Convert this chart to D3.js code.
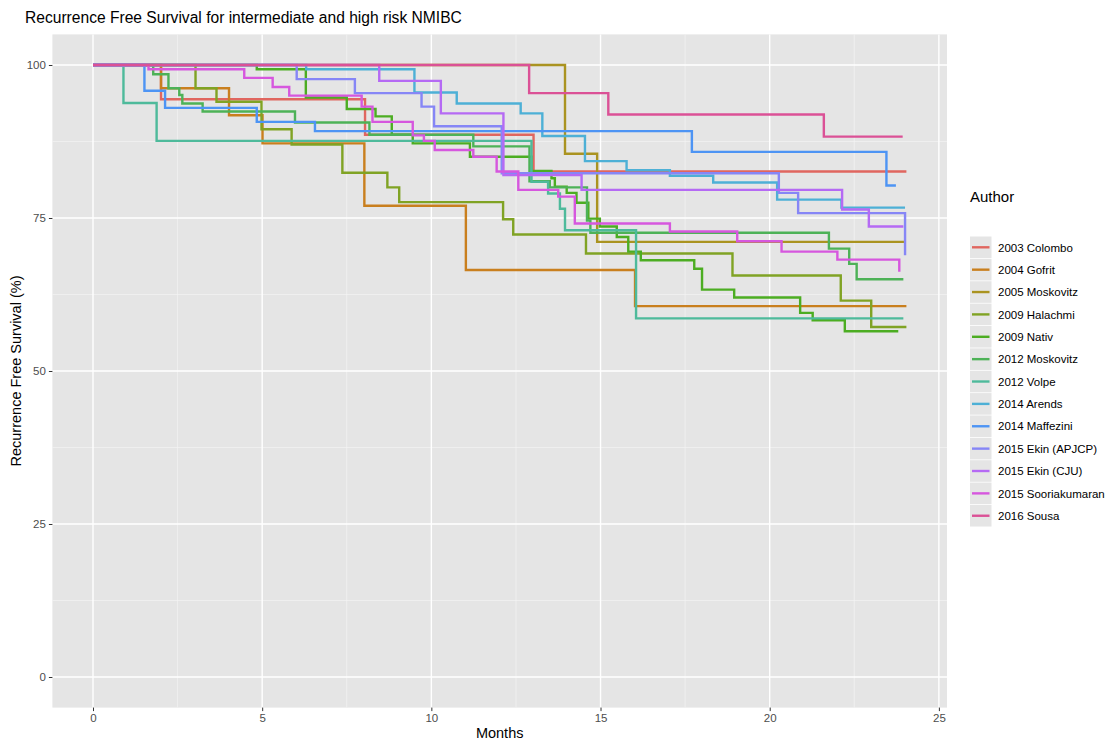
<!DOCTYPE html>
<html>
<head>
<meta charset="utf-8">
<script src="https://cdn.jsdelivr.net/npm/d3@7"></script>
<style>
body{margin:0;background:#fff;}
text{font-family:"Liberation Sans",Arial,sans-serif;}
</style>
</head>
<body>
<div id="content"></div>
<script>
// KM step curves: [month, survival %]
var authors=['2003 Colombo','2004 Gofrit','2005 Moskovitz','2009 Halachmi','2009 Nativ','2012 Moskovitz','2012 Volpe','2014 Arends','2014 Maffezini','2015 Ekin (APJCP)','2015 Ekin (CJU)','2015 Sooriakumaran','2016 Sousa'];
var colors=['#E0665F','#C97F1E','#AA9320','#80A324','#4CAD22','#4DB257','#4EBA9B','#4DB0D6','#4D94F4','#8686F6','#B56AF4','#D657DE','#DB5196'];

var colombo=[[0,100],[2.01,94.4],[8.04,88.6],[13.02,82.6],[24.04,82.6]];
var gofrit=[[0,100],[2.01,96.2],[4.02,91.8],[5.01,87.2],[8.02,77.0],[11.02,66.5],[16.02,60.6],[24.04,60.6]];
var moskovitz05=[[0,100],[13.95,85.5],[14.9,71.1],[24.0,71.1]];
var halachmi=[[0,100],[3.03,96.2],[3.65,94.0],[4.98,89.5],[5.87,87.0],[7.37,82.4],[8.7,80.0],[9.05,77.6],[12.12,74.8],[12.42,72.3],[14.57,69.2],[18.9,65.6],[22.1,61.5],[23.0,57.2],[24.04,57.2]];
var nativ=[[0,100],[4.84,99.3],[6.29,94.7],[7.5,92.8],[8.35,91.6],[8.83,88.6],[9.45,87.2],[11.14,85.0],[12.96,82.7],[13.55,81.5],[13.65,80.1],[14.0,79.1],[14.29,77.5],[14.64,74.9],[14.98,73.6],[15.48,71.9],[15.82,69.5],[16.19,68.1],[17.77,66.7],[18.0,63.3],[18.95,62.0],[20.9,59.5],[21.27,58.3],[22.22,56.5],[23.8,56.5]];
var moskovitz12=[[0,100],[1.78,98.5],[2.23,96.2],[2.55,95.1],[2.64,93.7],[3.24,92.4],[5.97,90.6],[8.17,88.6],[11.24,86.7],[12.9,81.0],[13.5,80.0],[14.6,74.6],[14.7,72.6],[21.75,70.0],[22.35,67.5],[22.57,65.0],[23.95,65.0]];
var volpe=[[0,100],[0.9,93.8],[1.88,87.6],[12.96,80.9],[13.45,79.0],[13.8,76.5],[13.95,73.0],[16.05,58.6],[23.95,58.6]];
var arends=[[0,100],[6.3,99.3],[9.5,95.5],[10.75,93.7],[12.64,92.1],[13.28,88.4],[14.54,84.3],[15.77,82.8],[17.05,81.9],[18.33,80.8],[20.22,78.0],[22.12,76.7],[24.0,76.7]];
var maffezini=[[0,100],[1.52,95.8],[2.13,93.0],[4.84,90.7],[6.56,89.2],[17.7,85.8],[23.45,80.3],[23.73,80.3]];
var ekinAPJCP=[[0,100],[6.02,97.7],[7.74,95.4],[9.71,93.2],[10.08,90.0],[12.08,82.3],[20.27,79.1],[20.84,75.8],[24.0,68.9]];
var ekinCJU=[[0,100],[8.46,97.4],[10.28,92.1],[12.13,82.0],[14.44,79.6],[22.14,76.4],[22.93,73.6],[23.95,73.6]];
var sooriakumaran=[[0,100],[1.64,99.3],[4.47,97.9],[5.31,96.4],[5.8,95.0],[7.94,93.2],[8.26,90.7],[9.45,88.5],[9.78,87.6],[10.1,86.1],[11.24,85.0],[11.93,82.6],[12.57,79.6],[13.75,78.5],[14.24,74.1],[17.05,72.8],[19.04,71.2],[20.35,69.5],[22.0,68.2],[23.83,66.2]];
var sousa=[[0,100],[12.89,95.4],[15.23,91.9],[21.6,88.3],[23.93,88.3]];

var curves=[colombo,gofrit,moskovitz05,halachmi,nativ,moskovitz12,volpe,arends,maffezini,ekinAPJCP,ekinCJU,sooriakumaran,sousa];

var xTicks=[0,5,10,15,20,25];
var yTicks=[0,25,50,75,100];

var svg_width=1115, svg_height=741;
var panel={left:52.4, right:947, top:34.4, bottom:707.6};

var svg=d3.select('#content').append('svg').attr('width',svg_width).attr('height',svg_height);

var xScale=d3.scaleLinear().domain([-1.2,25.24]).range([panel.left,panel.right]);
var yScale=d3.scaleLinear().domain([-5,105]).range([panel.bottom,panel.top]);

//panel background
svg.append('rect')
	.attr('x',panel.left).attr('y',panel.top)
	.attr('width',panel.right-panel.left).attr('height',panel.bottom-panel.top)
	.style('fill','#E5E5E5');

//minor grid
var xMinor=[2.5,7.5,12.5,17.5,22.5], yMinor=[12.5,37.5,62.5,87.5];
svg.selectAll('.xminor').data(xMinor).enter().append('line')
	.attr('x1',function(d){return xScale(d);}).attr('x2',function(d){return xScale(d);})
	.attr('y1',panel.top).attr('y2',panel.bottom)
	.style('stroke','#F4F4F4').style('stroke-width',0.7);
svg.selectAll('.yminor').data(yMinor).enter().append('line')
	.attr('y1',function(d){return yScale(d);}).attr('y2',function(d){return yScale(d);})
	.attr('x1',panel.left).attr('x2',panel.right)
	.style('stroke','#F4F4F4').style('stroke-width',0.7);

//major grid
svg.selectAll('.xmajor').data(xTicks).enter().append('line')
	.attr('x1',function(d){return xScale(d);}).attr('x2',function(d){return xScale(d);})
	.attr('y1',panel.top).attr('y2',panel.bottom)
	.style('stroke','#fff').style('stroke-width',1.4);
svg.selectAll('.ymajor').data(yTicks).enter().append('line')
	.attr('y1',function(d){return yScale(d);}).attr('y2',function(d){return yScale(d);})
	.attr('x1',panel.left).attr('x2',panel.right)
	.style('stroke','#fff').style('stroke-width',1.4);

//axes
var xAxis=svg.append('g').attr('transform','translate(0,'+panel.bottom+')')
	.call(d3.axisBottom(xScale).tickValues(xTicks).tickSize(3.5).tickPadding(3));
var yAxis=svg.append('g').attr('transform','translate('+panel.left+',0)')
	.call(d3.axisLeft(yScale).tickValues(yTicks).tickSize(3.5).tickPadding(3));
[xAxis,yAxis].forEach(function(a){
	a.select('.domain').remove();
	a.selectAll('line').style('stroke','#333');
	a.selectAll('text').style('fill','#4D4D4D').style('font-size','11.5px').style('font-family','"Liberation Sans",Arial,sans-serif');
});

//curves
var line=d3.line()
	.x(function(d){return xScale(d[0]);})
	.y(function(d){return yScale(d[1]);})
	.curve(d3.curveStepAfter);

svg.selectAll('.km').data(curves).enter().append('path')
	.attr('d',line)
	.style('fill','none')
	.style('stroke',function(d,i){return colors[i];})
	.style('stroke-width',2.4);

//titles
svg.append('text').attr('x',25).attr('y',23).text('Recurrence Free Survival for intermediate and high risk NMIBC')
	.style('font-size','15.6px').style('fill','#000');
svg.append('text').attr('x',(panel.left+panel.right)/2).attr('y',738).attr('text-anchor','middle')
	.text('Months').style('font-size','14.5px').style('fill','#000');
svg.append('text').attr('transform','translate(21,'+((panel.top+panel.bottom)/2)+') rotate(-90)')
	.attr('text-anchor','middle').text('Recurrence Free Survival (%)')
	.style('font-size','14.5px').style('fill','#000');

//legend
var legX=970, legY0=247.3, legStep=22.37;
svg.append('text').attr('x',legX).attr('y',202).text('Author').style('font-size','15px').style('fill','#000');
var keys=svg.selectAll('.key').data(authors).enter().append('g')
	.attr('transform',function(d,i){return 'translate('+legX+','+(legY0+i*legStep)+')';});
keys.append('rect').attr('x',0).attr('y',-10.8).attr('width',21.5).attr('height',21.6).style('fill','#E5E5E5');
keys.append('line').attr('x1',2).attr('x2',19.5).attr('y1',0).attr('y2',0)
	.style('stroke',function(d,i){return colors[i];}).style('stroke-width',2.4);
keys.append('text').attr('x',28).attr('y',4.2).text(function(d){return d;})
	.style('font-size','11.5px').style('fill','#000');
</script>
</body>
</html>
